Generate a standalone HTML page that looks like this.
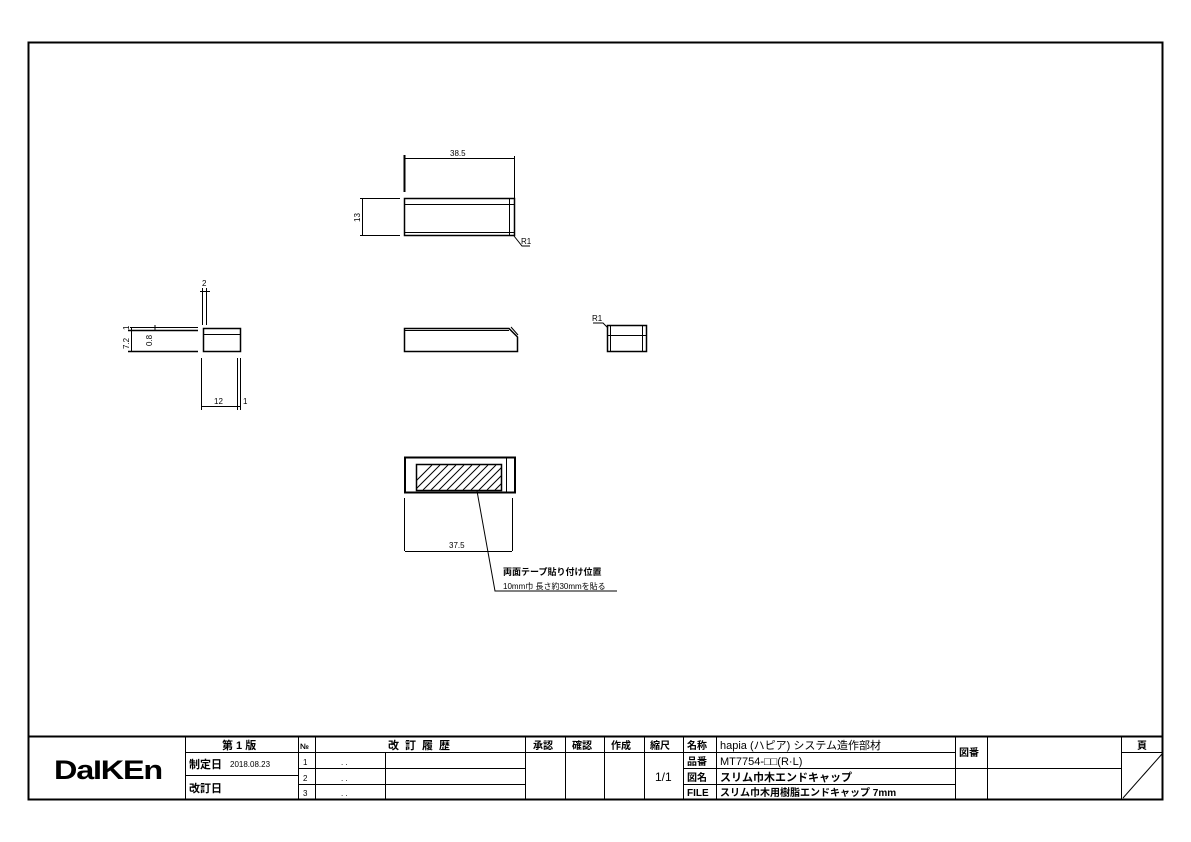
<!DOCTYPE html>
<html><head><meta charset="utf-8">
<style>
html,body{margin:0;padding:0;background:#fff;}
svg{display:block;}
text{font-family:"Liberation Sans","Noto Sans CJK JP",sans-serif;fill:#000;}
.b{font-weight:bold;}
</style></head>
<body>
<svg width="1191" height="842" viewBox="0 0 1191 842" xmlns="http://www.w3.org/2000/svg">
<rect x="0" y="0" width="1191" height="842" fill="#fff"/>
<g fill="none" stroke="#000">
<rect x="28.5" y="42.5" width="1134" height="757" stroke-width="2"/>
<line x1="28" y1="736.5" x2="1163" y2="736.5" stroke-width="2"/>
<!-- title block verticals -->
<g stroke-width="1">
<line x1="185.5" y1="736" x2="185.5" y2="799"/>
<line x1="298.5" y1="736" x2="298.5" y2="799"/>
<line x1="315.5" y1="736" x2="315.5" y2="799"/>
<line x1="385.5" y1="752" x2="385.5" y2="799"/>
<line x1="525.5" y1="736" x2="525.5" y2="799"/>
<line x1="565.5" y1="736" x2="565.5" y2="799"/>
<line x1="604.5" y1="736" x2="604.5" y2="799"/>
<line x1="644.5" y1="736" x2="644.5" y2="799"/>
<line x1="683.5" y1="736" x2="683.5" y2="799"/>
<line x1="716.5" y1="736" x2="716.5" y2="799"/>
<line x1="955.5" y1="736" x2="955.5" y2="799"/>
<line x1="987.5" y1="736" x2="987.5" y2="768"/>
<line x1="987.5" y1="768" x2="987.5" y2="799"/>
<line x1="1121.5" y1="736" x2="1121.5" y2="799"/>
<!-- horizontals -->
<line x1="185" y1="752.5" x2="955" y2="752.5"/>
<line x1="185" y1="775.5" x2="298" y2="775.5"/>
<line x1="298" y1="768.5" x2="525" y2="768.5"/>
<line x1="298" y1="784.5" x2="525" y2="784.5"/>
<line x1="683" y1="768.5" x2="955" y2="768.5"/>
<line x1="683" y1="784.5" x2="955" y2="784.5"/>
<line x1="955" y1="768.5" x2="1121" y2="768.5"/>
<line x1="1121" y1="752.5" x2="1162" y2="752.5"/>
<line x1="1123" y1="798" x2="1162" y2="754"/>
</g>
</g>
<!-- title block text -->
<text x="54" y="779" font-size="27" class="b" letter-spacing="-1" textLength="108" lengthAdjust="spacingAndGlyphs">DaIKEn</text>
<text x="222" y="749" font-size="11" class="b">第 1 版</text>
<text x="189" y="768" font-size="11" class="b">制定日</text>
<text x="230" y="767" font-size="8">2018.08.23</text>
<text x="189" y="792" font-size="11" class="b">改訂日</text>
<text x="300" y="749" font-size="8" class="b">№</text>
<text x="303" y="765" font-size="8">1</text>
<text x="303" y="781" font-size="8">2</text>
<text x="303" y="796" font-size="8">3</text>
<text x="341" y="765" font-size="8">.  .</text>
<text x="341" y="781" font-size="8">.  .</text>
<text x="341" y="796" font-size="8">.  .</text>
<text x="388" y="749" font-size="11" class="b" letter-spacing="6">改訂履歴</text>
<text x="533" y="749" font-size="10" class="b">承認</text>
<text x="572" y="749" font-size="10" class="b">確認</text>
<text x="611" y="749" font-size="10" class="b">作成</text>
<text x="650" y="749" font-size="10" class="b">縮尺</text>
<text x="655" y="781" font-size="12">1/1</text>
<text x="687" y="749" font-size="10" class="b">名称</text>
<text x="687" y="765" font-size="10" class="b">品番</text>
<text x="687" y="781" font-size="10" class="b">図名</text>
<text x="687" y="796" font-size="10" class="b">FILE</text>
<text x="720" y="749" font-size="11">hapia (ハピア)  システム造作部材</text>
<text x="720" y="765" font-size="11">MT7754-□□(R·L)</text>
<text x="720" y="781" font-size="11" class="b">スリム巾木エンドキャップ</text>
<text x="720" y="796" font-size="10" class="b">スリム巾木用樹脂エンドキャップ 7mm</text>
<text x="959" y="756" font-size="10" class="b">図番</text>
<text x="1137" y="749" font-size="10" class="b">頁</text>

<g fill="none" stroke="#000" stroke-width="1">
<!-- top view -->
<rect x="404.5" y="198.5" width="110" height="37" stroke-width="1.5"/>
<line x1="405" y1="204.5" x2="514" y2="204.5"/>
<line x1="405" y1="232.5" x2="514" y2="232.5"/>
<line x1="509.5" y1="199" x2="509.5" y2="235"/>
<line x1="404.5" y1="155" x2="404.5" y2="192" stroke-width="2"/>
<line x1="514.5" y1="156" x2="514.5" y2="198"/>
<line x1="405" y1="158.5" x2="514" y2="158.5"/>
<line x1="362.5" y1="198" x2="362.5" y2="236"/>
<line x1="360" y1="198.5" x2="400" y2="198.5"/>
<line x1="360" y1="235.5" x2="400" y2="235.5"/>
<polyline points="514,236 522,246 530,246"/>
<!-- front view -->
<path d="M404.5 328.5 H509 L517.5 337 V351.5 H404.5 Z" stroke-width="1.5"/>
<line x1="405" y1="330.5" x2="509" y2="330.5"/>
<line x1="511" y1="327" x2="518" y2="335"/>
<!-- right view -->
<rect x="607.5" y="325.5" width="39" height="26" stroke-width="1.5"/>
<line x1="608" y1="335.5" x2="646" y2="335.5"/>
<line x1="610.5" y1="326" x2="610.5" y2="351"/>
<line x1="642.5" y1="326" x2="642.5" y2="351"/>
<polyline points="593,323 603,323 608,328"/>
<!-- left view -->
<rect x="203.5" y="328.5" width="37" height="23" stroke-width="1.5"/>
<line x1="204" y1="334.5" x2="240" y2="334.5"/>
<line x1="130" y1="327.5" x2="198" y2="327.5"/>
<line x1="128" y1="330.5" x2="198" y2="330.5" stroke-width="1.5"/>
<line x1="128" y1="351.5" x2="198" y2="351.5" stroke-width="1.5"/>
<line x1="131.5" y1="327" x2="131.5" y2="352"/>
<line x1="155" y1="325" x2="155" y2="331"/>
<line x1="202.5" y1="288" x2="202.5" y2="325"/>
<line x1="206.5" y1="288" x2="206.5" y2="325"/>
<line x1="200" y1="291.5" x2="210" y2="291.5"/>
<line x1="201.5" y1="358" x2="201.5" y2="410"/>
<line x1="237.5" y1="358" x2="237.5" y2="410"/>
<line x1="240.5" y1="358" x2="240.5" y2="410"/>
<line x1="202" y1="406.5" x2="240" y2="406.5"/>
<!-- bottom view -->
<rect x="405" y="457.5" width="110" height="35" stroke-width="2"/>
<line x1="506.5" y1="458" x2="506.5" y2="492"/>
<rect x="416.5" y="464.5" width="85" height="26" stroke-width="1.5"/>
<line x1="404.5" y1="498" x2="404.5" y2="551"/>
<line x1="512.5" y1="498" x2="512.5" y2="551"/>
<line x1="405" y1="551.5" x2="512" y2="551.5"/>
<polyline points="477,491 495,591 617,591"/>
</g>
<defs><clipPath id="hc"><rect x="417" y="465" width="84" height="25"/></clipPath></defs>
<g clip-path="url(#hc)" stroke="#000" stroke-width="1">
<path d="M407 490 L432 465 M415 490 L440 465 M423 490 L448 465 M431 490 L456 465 M439 490 L464 465 M447 490 L472 465 M455 490 L480 465 M463 490 L488 465 M471 490 L496 465 M479 490 L504 465 M487 490 L512 465 M495 490 L520 465"/>
</g>
<g font-size="8">
<text x="450" y="156">38.5</text>
<text transform="translate(360,222) rotate(-90)">13</text>
<text x="521" y="244">R1</text>
<text x="592" y="321">R1</text>
<text x="202" y="286">2</text>
<text transform="translate(129,349) rotate(-90)">7.2</text>
<text transform="translate(129,330) rotate(-90)">1</text>
<text transform="translate(152,346) rotate(-90)">0.8</text>
<text x="214" y="404">12</text>
<text x="243" y="404">1</text>
<text x="449" y="548">37.5</text>
</g>
<text x="503" y="575" font-size="9" class="b">両面テープ貼り付け位置</text>
<text x="503" y="589" font-size="8">10mm巾 長さ約30mmを貼る</text>
</svg>
</body></html>
